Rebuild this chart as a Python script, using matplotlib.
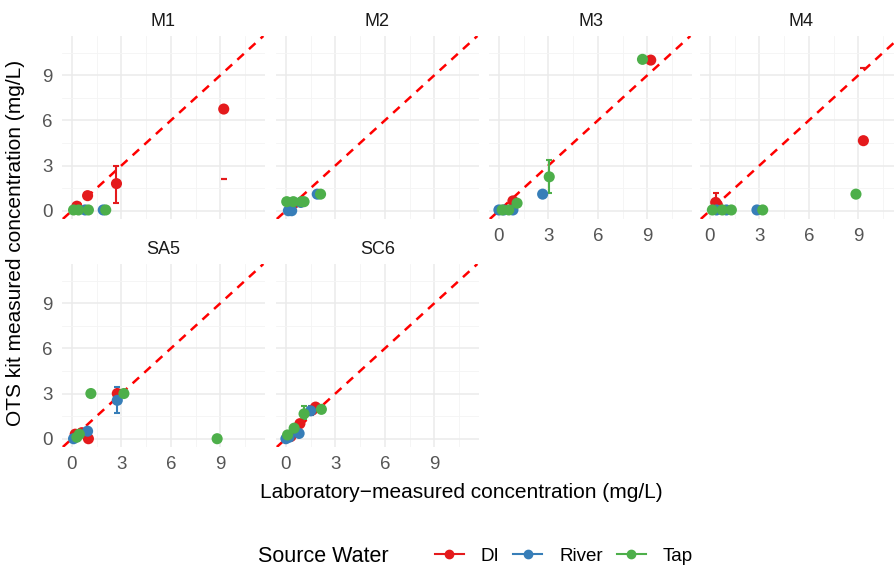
import numpy as np
import pandas as pd
import matplotlib
matplotlib.use('Agg')
import matplotlib.pyplot as plt
from matplotlib.lines import Line2D

plt.rcParams['font.family'] = ['Liberation Sans', 'DejaVu Sans']

# points, long format: one row per point
pt_panel = (['M1'] * 10 + ['M2'] * 10 + ['M3'] * 11 +
            ['M4'] * 11 + ['SA5'] * 12 + ['SC6'] * 12)
pt_source = (['DI'] * 4 + ['River'] * 2 + ['Tap'] * 4 +
             ['DI'] * 1 + ['River'] * 4 + ['Tap'] * 5 +
             ['DI'] * 2 + ['River'] * 4 + ['Tap'] * 5 +
             ['DI'] * 3 + ['River'] * 3 + ['Tap'] * 5 +
             ['DI'] * 4 + ['River'] * 3 + ['Tap'] * 5 +
             ['DI'] * 4 + ['River'] * 4 + ['Tap'] * 4)
pt_lab = [0.3, 0.95, 2.7, 9.2, 0.8, 1.9, 0.1, 0.4, 1.0, 2.05,
          0.5, 0.15, 0.35, 0.9, 1.9, 0.05, 0.45, 0.95, 1.1, 2.1,
          0.85, 9.2, 0.0, 0.3, 0.85, 2.65, 0.2, 0.6, 1.1, 3.05, 8.7,
          0.35, 0.45, 9.3, 0.4, 1.0, 2.85, 0.15, 0.75, 1.3, 3.2, 8.85,
          0.2, 0.6, 1.0, 2.75, 0.1, 0.95, 2.75, 0.3, 0.45, 1.15, 3.15, 8.8,
          0.3, 0.85, 1.6, 1.8, 0.0, 0.2, 0.8, 1.5, 0.1, 0.5, 1.1, 2.15]
pt_ots = [0.3, 1.0, 1.8, 6.75, 0.05, 0.05, 0.05, 0.05, 0.05, 0.05,
          0.5, 0.0, 0.0, 0.55, 1.1, 0.6, 0.6, 0.6, 0.6, 1.1,
          0.65, 10.0, 0.05, 0.05, 0.05, 1.1, 0.05, 0.05, 0.5, 2.25, 10.05,
          0.55, 0.4, 4.65, 0.05, 0.05, 0.05, 0.05, 0.05, 0.05, 0.05, 1.1,
          0.3, 0.4, 0.0, 3.0, 0.0, 0.5, 2.55, 0.1, 0.3, 3.0, 3.0, 0.0,
          0.15, 1.0, 1.9, 2.1, 0.0, 0.1, 0.35, 1.85, 0.25, 0.7, 1.65, 1.95]

# error bars (lo == hi means only a lone cap is visible)
eb_panel = ['M1', 'M1', 'M3', 'M4', 'M4', 'SA5', 'SC6', 'SC6', 'SC6']
eb_source = ['DI', 'DI', 'Tap', 'DI', 'DI', 'River', 'DI', 'River', 'Tap']
eb_lab = [2.7, 9.2, 3.05, 0.35, 9.3, 2.75, 1.8, 1.5, 1.1]
eb_lo = [0.5, 2.1, 1.2, 0.2, 9.5, 1.7, 1.95, 1.6, 1.3]
eb_hi = [3.0, 2.1, 3.4, 1.15, 9.5, 3.45, 2.25, 2.2, 2.2]

pts = pd.DataFrame({'panel': pt_panel, 'source': pt_source, 'lab': pt_lab, 'ots': pt_ots})
ebs = pd.DataFrame({'panel': eb_panel, 'source': eb_source, 'lab': eb_lab,
                    'lo': eb_lo, 'hi': eb_hi})

panels = ['M1', 'M2', 'M3', 'M4', 'SA5', 'SC6']
sources = ['DI', 'River', 'Tap']
colors = {'DI': '#E41A1C', 'River': '#377EB8', 'Tap': '#4DAF4A'}
ticks = [0, 3, 6, 9]

W, H = 894, 569
fig = plt.figure(figsize=(W / 100, H / 100), dpi=100)

lefts = [62, 276, 489, 700]
tops = [36, 264]
pw, ph = 203, 183

for i, name in enumerate(panels):
    r, c = divmod(i, 4)
    ax = fig.add_axes([lefts[c] / W, (H - tops[r] - ph) / H, pw / W, ph / H])
    ax.set_xlim(-0.6, 11.7)
    ax.set_ylim(-0.55, 11.6)
    ax.set_xticks(ticks)
    ax.set_yticks(ticks)
    ax.set_xticks([1.5, 4.5, 7.5, 10.5], minor=True)
    ax.set_yticks([1.5, 4.5, 7.5, 10.5], minor=True)
    ax.grid(which='major', color='#EBEBEB', lw=1.1)
    ax.grid(which='minor', color='#F4F4F4', lw=0.6)
    ax.set_axisbelow(True)
    for s in ax.spines.values():
        s.set_visible(False)
    ax.tick_params(which='both', length=0, labelsize=13.5, colors='#555555', pad=6.5)
    if c != 0:
        ax.tick_params(labelleft=False)
    if not (r == 1 or c >= 2):
        ax.tick_params(labelbottom=False)
    ax.set_title(name, fontsize=13, color='#1A1A1A', pad=7)

    # 1:1 line
    ax.axline((0, 0), slope=1, color='red', lw=1.8, ls=(0, (3.5, 2.8)), zorder=1)

    for src in sources:
        e = ebs[(ebs.panel == name) & (ebs.source == src)]
        ax.vlines(e.lab, e.lo, e.hi, color=colors[src], lw=1.5, zorder=2)
        ax.scatter(np.r_[e.lab, e.lab], np.r_[e.lo, e.hi], marker='_', s=22,
                   color=colors[src], linewidths=1.5, zorder=2)
        p = pts[(pts.panel == name) & (pts.source == src)]
        ax.scatter(p.lab, p.ots, s=64, color=colors[src], edgecolors='none', zorder=3)

fig.text(461 / W, 1 - 492 / H, 'Laboratory\u2212measured concentration (mg/L)',
         ha='center', va='center', fontsize=15)
fig.text(16 / W, 1 - 243 / H, 'OTS kit measured concentration (mg/L)',
         ha='center', va='center', rotation=90, fontsize=15)

fig.text(258 / W, 1 - 557 / H, 'Source Water', ha='left', va='center', fontsize=15.5)
handles = [Line2D([], [], color=colors[s], lw=1.5, marker='o', ms=6) for s in sources]
fig.legend(handles, sources, loc='center left', bbox_to_anchor=(427 / W, 1 - 556 / H),
           ncol=3, frameon=False, fontsize=13.5, handlelength=1.55, handletextpad=0.9,
           columnspacing=0.75, borderaxespad=0)

fig.savefig('out.png', dpi=100, facecolor='white')
